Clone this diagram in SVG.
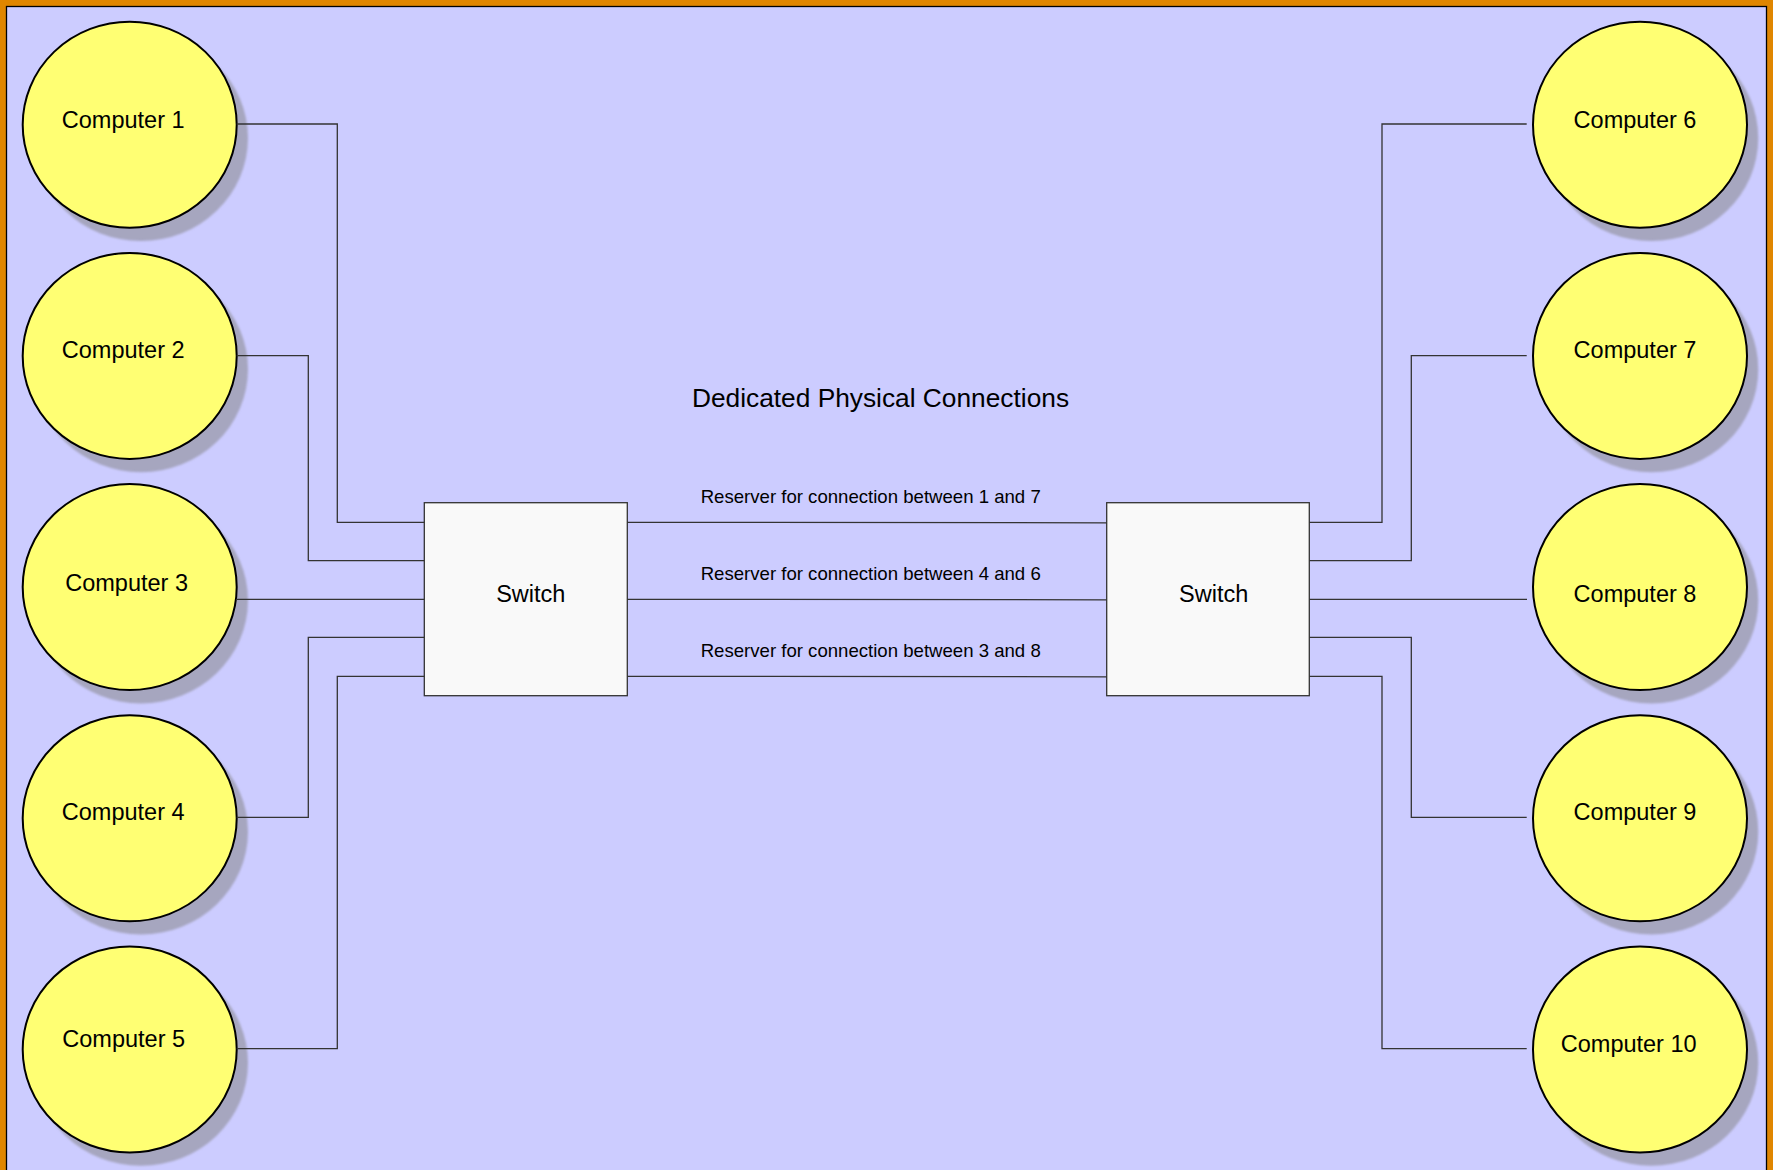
<svg xmlns="http://www.w3.org/2000/svg" width="1773" height="1170" viewBox="0 0 1773 1170">
<style>
.pc{fill:#ffff73;stroke:#000;stroke-width:2}
.sh{fill:#a6a6bf}
.sw{fill:#f9f9f9;stroke:#333;stroke-width:1.3}
.t{font-family:"Liberation Sans",Arial,sans-serif;fill:#000}
.big{font-size:23.5px}
.lab{font-size:18.6px}
.ttl{font-size:26.3px}
.cn{fill:none;stroke:#333;stroke-width:1.3}
</style>
<defs>
<filter id="blur" x="-10%" y="-10%" width="120%" height="120%"><feGaussianBlur stdDeviation="1.2"/></filter>
</defs>
<rect x="0" y="0" width="1773" height="1170" fill="#e08600"/>
<rect x="6.5" y="6.5" width="1760" height="1180" fill="#ccccff" stroke="#000" stroke-width="1.3"/>
<text class="t ttl" x="880.5" y="407.3" text-anchor="middle">Dedicated Physical Connections</text>
<g id="computer1"><ellipse class="sh" cx="141" cy="138" rx="107" ry="103" filter="url(#blur)"/><ellipse class="pc" cx="129.7" cy="124.7" rx="107" ry="103"/><text class="t big" x="123.2" y="127.5" text-anchor="middle">Computer 1</text></g>
<g id="computer2"><ellipse class="sh" cx="141" cy="369.2" rx="107" ry="103" filter="url(#blur)"/><ellipse class="pc" cx="129.7" cy="355.9" rx="107" ry="103"/><text class="t big" x="123.2" y="358" text-anchor="middle">Computer 2</text></g>
<g id="computer3"><ellipse class="sh" cx="141" cy="600.4" rx="107" ry="103" filter="url(#blur)"/><ellipse class="pc" cx="129.7" cy="587.1" rx="107" ry="103"/><text class="t big" x="126.6" y="590.8" text-anchor="middle">Computer 3</text></g>
<g id="computer4"><ellipse class="sh" cx="141" cy="831.6" rx="107" ry="103" filter="url(#blur)"/><ellipse class="pc" cx="129.7" cy="818.3" rx="107" ry="103"/><text class="t big" x="123.2" y="820.3" text-anchor="middle">Computer 4</text></g>
<g id="computer5"><ellipse class="sh" cx="141" cy="1062.8" rx="107" ry="103" filter="url(#blur)"/><ellipse class="pc" cx="129.7" cy="1049.5" rx="107" ry="103"/><text class="t big" x="123.7" y="1046.7" text-anchor="middle">Computer 5</text></g>
<g id="computer6"><ellipse class="sh" cx="1651.3" cy="138" rx="107" ry="103" filter="url(#blur)"/><ellipse class="pc" cx="1640" cy="124.7" rx="107" ry="103"/><text class="t big" x="1635" y="127.5" text-anchor="middle">Computer 6</text></g>
<g id="computer7"><ellipse class="sh" cx="1651.3" cy="369.2" rx="107" ry="103" filter="url(#blur)"/><ellipse class="pc" cx="1640" cy="355.9" rx="107" ry="103"/><text class="t big" x="1635" y="358" text-anchor="middle">Computer 7</text></g>
<g id="computer8"><ellipse class="sh" cx="1651.3" cy="600.4" rx="107" ry="103" filter="url(#blur)"/><ellipse class="pc" cx="1640" cy="587.1" rx="107" ry="103"/><text class="t big" x="1635" y="602" text-anchor="middle">Computer 8</text></g>
<g id="computer9"><ellipse class="sh" cx="1651.3" cy="831.6" rx="107" ry="103" filter="url(#blur)"/><ellipse class="pc" cx="1640" cy="818.3" rx="107" ry="103"/><text class="t big" x="1635" y="820.3" text-anchor="middle">Computer 9</text></g>
<g id="computer10"><ellipse class="sh" cx="1651.3" cy="1062.8" rx="107" ry="103" filter="url(#blur)"/><ellipse class="pc" cx="1640" cy="1049.5" rx="107" ry="103"/><text class="t big" x="1628.7" y="1052.3" text-anchor="middle">Computer 10</text></g>
<g id="switch1"><rect class="sw" x="424.3" y="502.7" width="203" height="193"/><text class="t big" x="530.8" y="601.7" text-anchor="middle">Switch</text></g>
<g id="switch2"><rect class="sw" x="1106.7" y="502.7" width="202.6" height="193"/><text class="t big" x="1213.7" y="601.7" text-anchor="middle">Switch</text></g>
<g id="connectors">
<polyline class="cn" points="236.7,124 337.3,124 337.3,522.3 424.3,522.3"/>
<polyline class="cn" points="236.7,355.7 308.3,355.7 308.3,560.7 424.3,560.7"/>
<polyline class="cn" points="236,599.3 424.3,599.3"/>
<polyline class="cn" points="236.7,817.3 308.3,817.3 308.3,637.3 424.3,637.3"/>
<polyline class="cn" points="236.7,1048.7 337.3,1048.7 337.3,676.3 424.3,676.3"/>
<polyline class="cn" points="1526.7,124 1382,124 1382,522.3 1309.3,522.3"/>
<polyline class="cn" points="1526.7,355.7 1411.3,355.7 1411.3,560.7 1309.3,560.7"/>
<polyline class="cn" points="1527,599.3 1309.3,599.3"/>
<polyline class="cn" points="1526.7,817.3 1411.3,817.3 1411.3,637.3 1309.3,637.3"/>
<polyline class="cn" points="1526.7,1048.7 1382,1048.7 1382,676.3 1309.3,676.3"/>
<line class="cn" x1="627.3" y1="522.3" x2="1106.7" y2="522.8"/>
<line class="cn" x1="627.3" y1="599.3" x2="1106.7" y2="599.8"/>
<line class="cn" x1="627.3" y1="676.3" x2="1106.7" y2="676.8"/>
<text class="t lab" x="870.7" y="503.3" text-anchor="middle">Reserver for connection between 1 and 7</text>
<text class="t lab" x="870.7" y="580" text-anchor="middle">Reserver for connection between 4 and 6</text>
<text class="t lab" x="870.7" y="656.7" text-anchor="middle">Reserver for connection between 3 and 8</text>
</g>
</svg>
